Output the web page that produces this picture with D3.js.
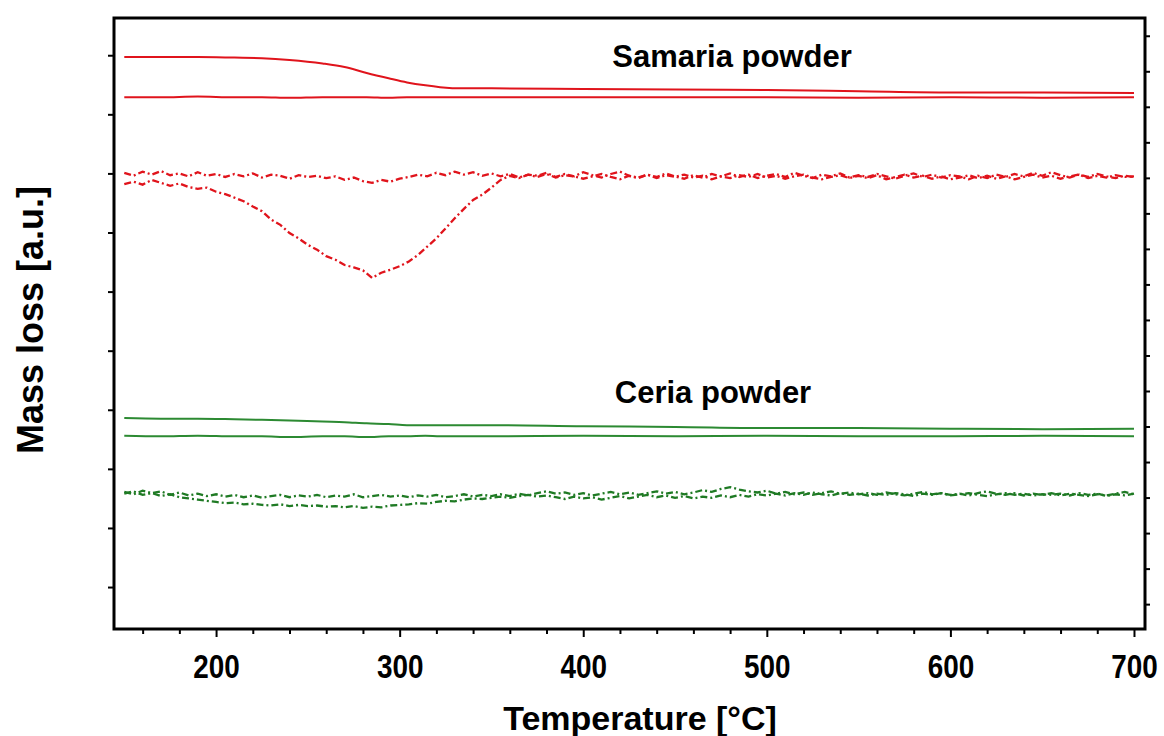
<!DOCTYPE html>
<html lang="en">
<head>
    <meta charset="UTF-8">
    <title>TG / DTG powders</title>
    <script src="https://d3js.org/d3.v7.min.js"></script>
    <style>
        body { margin: 0; background: #fff; }
        text { font-family: "Liberation Sans", Arial, sans-serif; font-weight: bold; }
    </style>
</head>
<body>
<svg id="chart" width="1164" height="736"></svg>
<script>
    // temperature grids
    const tgTemp = [150, 170, 190, 210, 225, 240, 258, 270, 282, 294, 304, 314, 322, 335, 350, 400, 450, 500, 550, 600, 650, 700]
    const dtgTemp = d3.range(150, 701, 5)

    // Samaria powder, TG (solid)
    const samariaTgHeat = [89.7, 89.7, 89.7, 89.6, 89.5, 89.2, 88.6, 88.0, 87.0, 86.1, 85.4, 84.9, 84.6, 84.4, 84.4, 84.3, 84.2, 84.1, 83.9, 83.7, 83.7, 83.6]
    const samariaTgCool = [82.9, 82.9, 83.0, 82.9, 82.9, 82.8, 82.9, 82.9, 82.9, 82.8, 82.9, 82.9, 82.9, 82.9, 82.9, 82.9, 82.9, 82.9, 82.8, 82.9, 82.8, 82.9]

    // Samaria powder, DTG (dashed)
    const samariaDtgA = [70.1, 69.6, 70.3, 69.8, 70.4, 69.7, 70.0, 69.5, 70.2, 69.6, 69.9,
        69.4, 69.9, 69.5, 70.0, 69.3, 69.8, 69.6, 69.1, 69.7, 69.4,
        69.6, 69.2, 69.5, 68.9, 69.3, 68.7, 68.4, 68.9, 68.6, 69.1,
        69.4, 69.8, 69.5, 70.1, 69.7, 70.3, 69.8, 70.2, 69.6, 70.0,
        69.5, 69.9, 69.3, 69.8, 69.6, 70.1, 69.4, 69.9, 69.5, 70.2,
        69.7, 69.3, 69.9, 70.3, 69.6, 69.2, 69.8, 69.4, 70.0, 69.5,
        69.1, 69.7, 69.3, 69.9, 69.5, 70.0, 69.4, 69.8, 69.2, 69.6,
        69.9, 69.4, 70.1, 69.6, 69.2, 69.8, 69.5, 70.0, 69.3, 69.7,
        69.4, 69.9, 69.5, 69.1, 69.6, 70.0, 69.4, 69.8, 69.3, 69.7,
        69.5, 69.0, 69.6, 69.2, 69.8, 69.4, 69.9, 69.5, 70.1, 69.6,
        70.2, 69.7, 69.3, 69.8, 69.4, 69.9, 69.5, 69.2, 69.6, 69.4]
    const samariaDtgB = [68.2, 68.6, 68.1, 68.9, 68.4, 67.9, 68.3, 67.7, 67.4, 67.6, 66.9,
        66.5, 65.9, 65.3, 64.4, 63.6, 62.2, 61.3, 59.9, 59.0, 57.9,
        57.1, 56.0, 55.4, 54.5, 54.1, 53.6, 52.3, 53.2, 53.7, 54.3,
        55.1, 56.2, 57.6, 59.0, 60.7, 62.4, 64.0, 65.5, 66.4, 67.6,
        68.9, 69.6, 69.2, 69.8, 69.4, 69.9, 69.3, 69.7, 69.5, 69.1,
        69.5, 69.9, 69.4, 69.0, 69.6, 69.3, 69.8, 69.2, 69.7, 69.4,
        69.8, 69.3, 69.6, 69.0, 69.5, 69.2, 69.7, 69.4, 69.9, 69.3,
        69.6, 69.1, 69.5, 69.8, 69.3, 69.0, 69.4, 69.7, 69.2, 69.6,
        69.2, 69.7, 69.0, 69.4, 69.8, 69.3, 69.6, 69.1, 69.5, 69.0,
        69.3, 69.7, 69.2, 69.6, 69.1, 69.5, 69.0, 69.4, 69.8, 69.3,
        69.6, 69.1, 69.5, 69.8, 69.2, 69.6, 69.3, 69.7, 69.4, 69.5]

    // Ceria powder, TG (solid)
    const ceriaTgHeat = [28.6, 28.5, 28.5, 28.4, 28.3, 28.2, 28.0, 27.9, 27.7, 27.6, 27.4, 27.4, 27.4, 27.4, 27.4, 27.2, 27.1, 26.9, 26.9, 26.8, 26.7, 26.8]
    const ceriaTgCool = [25.6, 25.5, 25.6, 25.5, 25.5, 25.4, 25.5, 25.5, 25.4, 25.5, 25.5, 25.6, 25.5, 25.5, 25.5, 25.6, 25.5, 25.6, 25.5, 25.5, 25.6, 25.5]

    // Ceria powder, DTG (dashed)
    const ceriaDtgA = [16.1, 15.7, 16.3, 15.9, 16.2, 15.6, 16.0, 15.5, 15.8, 15.4, 15.7,
        15.3, 15.6, 15.2, 15.5, 15.1, 15.4, 15.6, 15.2, 15.5, 15.3,
        15.6, 15.2, 15.5, 15.3, 15.7, 15.2, 15.4, 15.6, 15.3, 15.5,
        15.2, 15.5, 15.3, 15.6, 15.2, 15.4, 15.7, 15.3, 15.6, 15.4,
        15.7, 15.4, 15.8, 15.5, 15.9, 16.2, 15.8, 16.0, 15.6, 15.9,
        15.5, 15.8, 16.1, 15.7, 16.0, 15.6, 15.9, 16.2, 15.8, 16.1,
        15.7, 16.0, 16.4, 16.1, 16.6, 16.9, 16.5, 16.2, 16.0, 16.3,
        15.8, 16.1, 15.7, 16.0, 15.6, 15.9, 16.2, 15.8, 16.0, 15.7,
        15.9, 15.6, 16.0, 15.7, 15.5, 15.8, 16.1, 15.7, 15.9, 15.6,
        15.8, 15.5, 15.9, 16.2, 15.8, 15.6, 15.9, 15.5, 15.8, 15.6,
        15.9, 15.5, 15.8, 15.6, 15.4, 15.7, 15.5, 15.8, 16.1, 15.7]
    const ceriaDtgB = [15.8, 16.2, 15.6, 15.9, 15.4, 15.7, 15.2, 15.0, 14.8, 14.6, 14.4,
        14.2, 14.3, 14.0, 14.1, 13.9, 13.8, 14.0, 13.7, 13.9, 13.7,
        13.8, 13.6, 13.7, 13.5, 13.7, 13.4, 13.6, 13.5, 13.8, 13.9,
        14.0, 14.2, 14.1, 14.4, 14.6, 14.5, 14.8, 15.0, 14.9, 15.1,
        15.3, 15.1, 15.4, 15.6, 15.3, 15.5, 15.2, 14.9, 15.3, 15.0,
        15.2, 14.8, 15.1, 15.4, 15.0, 15.3, 15.6, 15.2, 15.5, 15.1,
        15.4, 15.0, 15.3, 15.1, 15.5, 15.2, 15.6, 15.3, 15.7, 15.5,
        15.8, 15.5, 15.9, 15.6, 16.0, 15.7, 15.5, 15.9, 15.6, 15.8,
        15.5, 15.8, 15.6, 15.9, 15.7, 15.4, 15.8, 15.6, 15.9, 15.5,
        15.7, 15.9, 15.6, 15.4, 15.7, 15.9, 15.6, 15.8, 15.5, 15.7,
        15.6, 15.8, 15.5, 15.9, 15.6, 15.8, 15.4, 15.7, 15.5, 15.8]

    const xTickLabels = [200, 300, 400, 500, 600, 700]
    const samariaColor = "#e0141c"
    const ceriaColor = "#2c8a32"
    const ceriaDashColor = "#1f7a24"

    const svg = d3.select("#chart")
    const m = { left: 114, right: 1145, top: 18, bottom: 629 }

    const x = d3.scaleLinear().domain([144.4, 706]).range([m.left, m.right])
    const y = d3.scaleLinear().domain([-7.1, 96.3]).range([m.bottom, m.top])
    // right axis has its own finer tick spacing
    const yR = d3.scaleLinear().domain([0, 17.2]).range([m.bottom, m.top])

    // bottom axis: minor every 20, major every 100
    svg.append("g").attr("transform", `translate(0,${m.bottom})`)
        .call(d3.axisBottom(x).tickValues(d3.range(160, 701, 20).filter(v => v % 100 !== 0))
            .tickSize(5).tickFormat(""))
        .call(g => g.select(".domain").remove())
    const gxMajor = svg.append("g").attr("transform", `translate(0,${m.bottom})`)
        .call(d3.axisBottom(x).tickValues(xTickLabels).tickSize(8).tickPadding(17))
    gxMajor.select(".domain").remove()
    // tick numbers in the reference are narrow and tall
    gxMajor.selectAll("text").attr("font-size", 34).attr("fill", "#000")
        .attr("transform", "scale(0.82,1)")

    // left axis, no labels
    svg.append("g").attr("transform", `translate(${m.left},0)`)
        .call(d3.axisLeft(y).tickValues(d3.range(0, 91, 10)).tickSize(6).tickFormat(""))
        .call(g => g.select(".domain").remove())

    // right axis, no labels
    svg.append("g").attr("transform", `translate(${m.right},0)`)
        .call(d3.axisRight(yR).tickValues(d3.range(0.7, 17.2, 1)).tickSize(5).tickFormat(""))
        .call(g => g.select(".domain").remove())

    svg.selectAll(".tick line").attr("stroke", "#000").attr("stroke-width", 2)

    // frame
    svg.append("rect")
        .attr("x", m.left).attr("y", m.top)
        .attr("width", m.right - m.left).attr("height", m.bottom - m.top)
        .attr("fill", "none").attr("stroke", "#000").attr("stroke-width", 3)

    const smooth = d3.line().x(d => x(d[0])).y(d => y(d[1])).curve(d3.curveMonotoneX)
    const jagged = d3.line().x(d => x(d[0])).y(d => y(d[1]))
    const series = [
        { t: tgTemp, v: samariaTgHeat, c: samariaColor, dash: null },
        { t: tgTemp, v: samariaTgCool, c: samariaColor, dash: null },
        { t: dtgTemp, v: samariaDtgA, c: samariaColor, dash: "7,3,2,3" },
        { t: dtgTemp, v: samariaDtgB, c: samariaColor, dash: "7,3,2,3" },
        { t: tgTemp, v: ceriaTgHeat, c: ceriaColor, dash: null },
        { t: tgTemp, v: ceriaTgCool, c: ceriaColor, dash: null },
        { t: dtgTemp, v: ceriaDtgA, c: ceriaDashColor, dash: "7,3,2,3" },
        { t: dtgTemp, v: ceriaDtgB, c: ceriaDashColor, dash: "7,3,2,3" }
    ]
    svg.append("g").selectAll("path")
        .data(series)
        .join("path")
        .attr("d", s => (s.dash ? jagged : smooth)(s.t.map((t, i) => [t, s.v[i]])))
        .attr("fill", "none")
        .attr("stroke", s => s.c)
        .attr("stroke-width", s => s.dash ? 2.3 : 2)
        .attr("stroke-dasharray", s => s.dash)

    // annotations
    svg.append("text").attr("x", 732).attr("y", 67).attr("text-anchor", "middle")
        .attr("font-size", 31).text("Samaria powder")
    svg.append("text").attr("x", 713).attr("y", 403).attr("text-anchor", "middle")
        .attr("font-size", 31).text("Ceria powder")

    // axis titles
    svg.append("text").attr("x", 640).attr("y", 730).attr("text-anchor", "middle")
        .attr("font-size", 34).text("Temperature [°C]")
    svg.append("text").attr("transform", "translate(43,320) rotate(-90)")
        .attr("text-anchor", "middle").attr("font-size", 36).text("Mass loss [a.u.]")
</script>
</body>
</html>
